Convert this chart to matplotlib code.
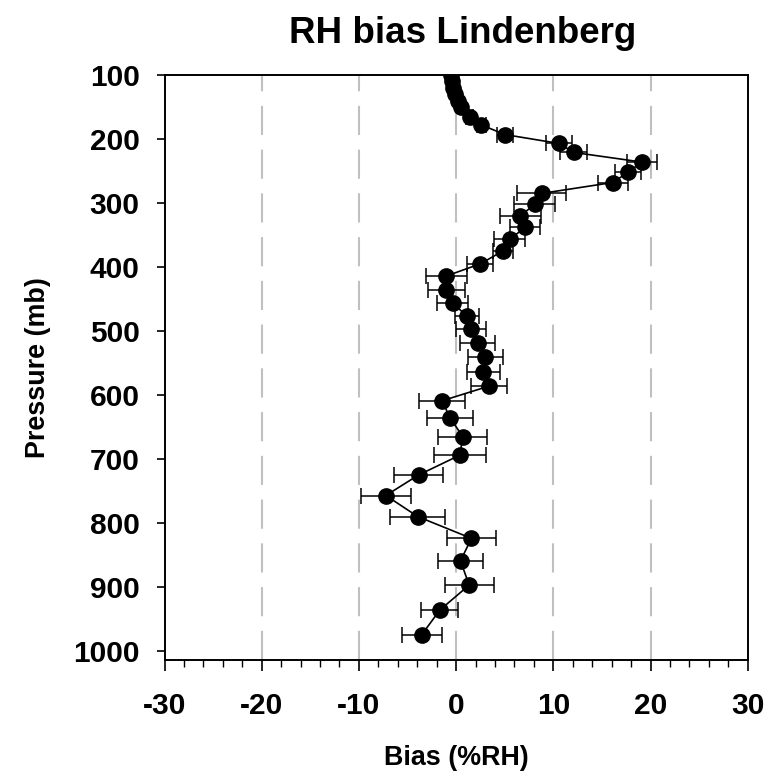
import matplotlib
matplotlib.use("Agg")
from matplotlib import pyplot as plt
from matplotlib.ticker import MultipleLocator

# pressure levels (mb), bias (%RH) and error bar half widths
pressure = [100, 110, 120, 130, 140, 150, 165, 178, 193, 207, 221, 236, 252, 268,
            285, 302, 320, 338, 357, 375, 395, 414, 436, 456, 477, 497, 519, 541,
            564, 586, 609, 636, 665, 694, 725, 757, 790, 824, 859, 897, 936, 975]
bias = [-0.55, -0.45, -0.3, -0.15, 0.15, 0.5, 1.4, 2.6, 5.0, 10.6, 12.1, 19.1, 17.7, 16.1,
        8.8, 8.1, 6.6, 7.1, 5.5, 4.8, 2.5, -1.0, -1.0, -0.37, 1.13, 1.5, 2.2, 3.0,
        2.8, 3.4, -1.44, -0.62, 0.69, 0.38, -3.87, -7.23, -3.94, 1.58, 0.45, 1.34, -1.68, -3.56]
err = [0.1, 0.1, 0.15, 0.15, 0.2, 0.25, 0.35, 0.5, 0.8, 1.34, 1.39, 1.54, 1.34, 1.54,
       2.49, 2.11, 2.09, 1.51, 1.61, 1.05, 1.34, 2.07, 1.87, 1.58, 1.2, 1.53, 1.8, 1.8,
       1.71, 1.83, 2.37, 2.35, 2.52, 2.66, 2.57, 2.57, 2.83, 2.49, 2.35, 2.52, 1.92, 2.06]

x_ticks = [-30, -20, -10, 0, 10, 20, 30]
y_ticks = [100, 200, 300, 400, 500, 600, 700, 800, 900, 1000]

plt.rcParams['font.family'] = ['Liberation Sans', 'DejaVu Sans']
plt.rcParams['font.weight'] = 'bold'
plt.rcParams['axes.unicode_minus'] = False

fig = plt.figure(figsize=(7.75, 7.74), dpi=100)
ax = fig.add_axes([0.2123, 0.1473, 0.7525, 0.7558])

# dashed vertical grid lines
for gx in x_ticks[1:-1]:
    ax.axvline(gx, color="#c0c0c0", lw=1.5, dashes=(14, 7), zorder=0)

ax.errorbar(bias, pressure, xerr=err, fmt="o-", color="black", ms=11, lw=1.2,
            elinewidth=1.1, capsize=5.5, capthick=1.1, zorder=3)

ax.set_xlim(-30, 30)
ax.set_ylim(1014, 100)
ax.set_xticks(x_ticks)
ax.set_yticks(y_ticks)
ax.xaxis.set_minor_locator(MultipleLocator(2))
ax.tick_params(axis="x", which="major", length=8, width=1.2, pad=15, labelsize=21.5)
ax.tick_params(axis="x", which="minor", length=5, width=1.0)
ax.tick_params(axis="y", which="major", length=6, width=1.2, pad=12, labelsize=21.5)
for lab in ax.get_xticklabels() + ax.get_yticklabels():
    lab.set_fontweight("bold")
for s in ax.spines.values():
    s.set_linewidth(1.4)

ax.set_xlabel("Bias (%RH)", fontsize=19.4, fontweight="bold", labelpad=18)
ax.set_ylabel("Pressure (mb)", fontsize=19.4, fontweight="bold", labelpad=16)
fig.text(0.597, 0.957, "RH bias Lindenberg", ha="center", va="center",
         fontsize=26.5, fontweight="bold")

fig.savefig("out.png", dpi=100)
